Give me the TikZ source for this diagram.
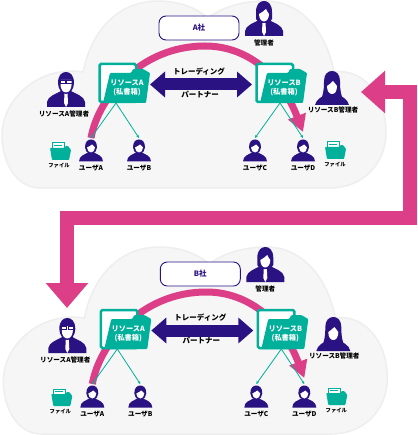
\documentclass[tikz,border=0pt]{standalone}
\usepackage{fontspec}
\setmainfont{Noto Sans CJK JP}
\usetikzlibrary{arrows.meta,positioning}
\definecolor{ink}{HTML}{2B1283}
\definecolor{rose}{HTML}{DC3F88}
\definecolor{teal}{HTML}{00B09A}
\definecolor{cloudfill}{HTML}{F6F6F6}
\definecolor{cloudline}{HTML}{EEEEEE}
\tikzset{
  lab/.style={font=\fontsize{6.6}{8}\selectfont\bfseries,inner sep=0pt},
  filelab/.style={font=\fontsize{5.3}{7}\selectfont\bfseries,inner sep=0pt},
  mid/.style={font=\fontsize{7.5}{9}\selectfont\bfseries,inner sep=0pt},
  boxlab/.style={font=\fontsize{7.2}{9.5}\selectfont\bfseries,text=white,align=center,inner sep=0pt},
  company/.style={draw=ink,line width=.9pt,fill=white,rounded corners=7pt,minimum width=80pt,minimum height=24pt,
    font=\fontsize{7.5}{9}\selectfont\bfseries,text=ink,inner sep=0pt},
  cloudshape/.style={fill=cloudfill,draw=cloudline,line width=1.5pt},
  swoop/.style={rose,line width=7pt,-{Triangle[length=17pt,width=18pt]}},
  dual/.style={ink,line width=12pt,{Triangle[length=15pt,width=25pt]}-{Triangle[length=15pt,width=25pt]}},
  link/.style={teal,line width=.8pt,-{Stealth[length=3pt,width=3pt]}},
  back/.style={rose,line width=14pt,{Triangle[length=24pt,width=41pt]}-{Triangle[length=25pt,width=41pt]}},
  pics/usericon/.style={code={
    \fill[ink] (-12,22) .. controls (-12,16) and (-6,15) .. (-3,13) -- (3,13) .. controls (6,15) and (12,16) .. (12,22) -- cycle;
    \fill[ink] (-6,8) .. controls (-6,2) and (-3,0) .. (0,0) .. controls (3,0) and (6,2) .. (6,8) .. controls (6,11) and (4,14) .. (0,14) .. controls (-4,14) and (-6,11) .. (-6,8) -- cycle;
    \fill[white] (-4,8) .. controls (-2,7) and (0,6) .. (1,5) .. controls (2,6) and (3,7) .. (4,8) .. controls (4,11) and (2,13) .. (0,13) .. controls (-2,13) and (-4,11) .. (-4,8) -- cycle;
  }},
  pics/bust/.style={code={
    \fill[ink] (-19,35) -- (-19,30) .. controls (-18,24) and (-10,22) .. (-5,19) -- (5,19) .. controls (10,22) and (18,24) .. (19,30) -- (19,35) -- cycle;
    \fill[white] (-1.5,21) -- (1.5,21) -- (2,31) -- (0,35) -- (-2,31) -- cycle;
  }},
  pics/glassman/.style={code={
    \pic at (0,0) {bust};
    \fill[ink] (-8,11) .. controls (-8,3) and (-4,0) .. (0,0) .. controls (4,0) and (8,3) .. (8,11) .. controls (8,17) and (4,22) .. (0,22) .. controls (-4,22) and (-8,17) .. (-8,11) -- cycle;
    \fill[white] (-5.5,8) -- (5.5,8) -- (5.5,13) .. controls (5.5,17) and (3,20.5) .. (0,20.5) .. controls (-3,20.5) and (-5.5,17) .. (-5.5,13) -- cycle;
    \draw[ink,line width=.9pt] (-6,8.5) rectangle (-.8,11.5) (.8,8.5) rectangle (6,11.5);
  }},
  pics/chief/.style={code={
    \pic at (0,0) {bust};
    \fill[ink] (-8,11) .. controls (-8,3) and (-4,0) .. (0,0) .. controls (4,0) and (8,3) .. (8,11) -- (8,18) -- (5,22) -- (-5,22) -- (-8,18) -- cycle;
    \fill[white] (-5,13) .. controls (-3,12) and (0,10) .. (2,8) .. controls (3,10) and (4,12) .. (5,13) .. controls (5,17) and (3,20.5) .. (0,20.5) .. controls (-3,20.5) and (-5,17) .. (-5,13) -- cycle;
  }},
  pics/lady/.style={code={
    \fill[ink] (-17,34) .. controls (-16,28) and (-9,25) .. (-5,23) -- (5,23) .. controls (9,25) and (16,28) .. (17,34) -- cycle;
    \fill[ink] (-10,26) .. controls (-8,20) and (-8,14) .. (-8,10) .. controls (-8,3) and (-4,0) .. (0,0) .. controls (4,0) and (8,3) .. (8,10) .. controls (8,14) and (8,20) .. (10,26) -- cycle;
    \fill[white] (-5,15) .. controls (-3,14) and (-1,12) .. (1,10) .. controls (3,12) and (4,14) .. (5,15) .. controls (5,20) and (3,23) .. (0,23) .. controls (-3,23) and (-5,20) .. (-5,15) -- cycle;
  }},
  pics/folder/.style={code={
    \draw[teal,line width=2.5pt,fill=white,rounded corners=1.5pt] (1.5,2) rectangle (38,40);
    \fill[teal,rounded corners=1pt] (5,41) -- (12,11) -- (33,11) -- (35,7) -- (45,7) -- (52,11) -- (48,41) -- cycle;
  }},
  pics/paper/.style={code={
    \draw[teal,line width=1pt,fill=white] (2,1) rectangle (14,11);
    \draw[teal,line width=.5pt] (4,3.5) -- (12,3.5);
    \fill[teal,rounded corners=.8pt] (0,6) -- (14,6) -- (15.5,4) -- (18,4) -- (21,8) -- (19,18) -- (2,18) -- cycle;
  }}
}
\begin{document}
\begin{tikzpicture}[x=1pt,y=-1pt]
\useasboundingbox (0,0) rectangle (417,435);
\foreach \p/\dx/\dy/\lab in {a/0/0/A社,b/1.3/246/B社}{
\begin{scope}[xshift=\dx pt,yshift=-\dy pt]
\draw[cloudshape] (83,72) .. controls (92,28) and (120,1) .. (158,1) .. controls (178,1) and (195,7) .. (208,18)
  .. controls (222,7) and (243,1) .. (265,1) .. controls (300,1) and (326,30) .. (334,72)
  .. controls (363,68) and (386,95) .. (386,132) .. controls (386,165) and (362,188) .. (330,188)
  -- (40,188) .. controls (16,188) and (2,162) .. (2,135) .. controls (2,100) and (38,65) .. (83,72) -- cycle;
\node[company] (\p-box) at (199,28) {\lab};
\pic at (264,1) {chief};
\node[lab] (\p-chief) at (264,43) {管理者};
\pic at (66,72) {glassman};
\node[lab] (\p-adminA) at (64,114) {リソースA管理者};
\pic at (332,71) {lady};
\node[lab] (\p-adminB) at (333,110) {リソースB管理者};
\coordinate (\p-headA) at (91,138);
\coordinate (\p-headB) at (139,138);
\coordinate (\p-headC) at (255,138);
\coordinate (\p-headD) at (303,138);
\coordinate (\p-endD) at (303,132);
\draw[swoop] (\p-headA) .. controls (98,98) and (140,46) .. (205,46) .. controls (245,46) and (280,72) .. (\p-endD);
\pic at (98,62) {folder};
\pic at (255,62) {folder};
\node[boxlab] (\p-resA) at (127,88) {リソースA\\(私書箱)};
\node[boxlab] (\p-resB) at (284,88) {リソースB\\(私書箱)};
\coordinate (\p-forkA) at (116,103);
\coordinate (\p-forkB) at (280,103);
\draw[link] (\p-forkA) -- (\p-headA);
\draw[link] (\p-forkA) -- (\p-headB);
\draw[link] (\p-forkB) -- (\p-headC);
\draw[link] (\p-forkB) -- (\p-headD);
\foreach \n/\x/\t in {A/91/ユーザA,B/139/ユーザB,C/255/ユーザC,D/303/ユーザD}{
  \pic at (\x,139.5) {usericon};
  \node[lab] (\p-user\n) at (\x,168) {\t};
}
\pic at (50,142) {paper};
\node[filelab] (\p-fileL) at (59,166) {ファイル};
\pic at (325,141) {paper};
\node[filelab] (\p-fileR) at (335,165) {ファイル};
\coordinate (\p-tipL) at (150,84.5);
\coordinate (\p-tipR) at (252,84.5);
\draw[dual] (\p-tipL) -- (\p-tipR);
\node[mid] (\p-trade) at (199,72) {トレーディング};
\node[mid] (\p-partner) at (200,95) {パートナー};
\end{scope}
}
\coordinate (backB) at (361,92);
\coordinate (backA) at (67,308);
\draw[back] (backB) -| (410,218) -| (backA);
\end{tikzpicture}
\end{document}
